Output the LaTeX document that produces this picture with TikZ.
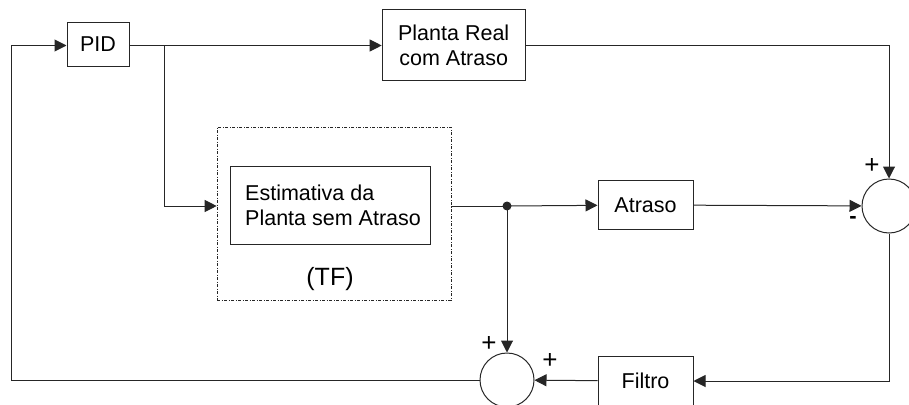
\documentclass[tikz,border=0pt]{standalone}
\usepackage{fontspec}
\setmainfont{Liberation Sans}
\usepackage{tikz}
\usetikzlibrary{calc,arrows.meta,positioning}

\begin{document}
\begin{tikzpicture}[x=1pt, y=-1pt,
  every node/.style={font=\fontsize{21.5}{25}\selectfont},
  blk/.style={draw=black!85, line width=1pt, minimum width=#1, inner sep=0pt},
  sumnode/.style={draw=black!85, line width=1pt, circle, minimum size=54pt, inner sep=0pt},
  arr/.style={draw=black!85, line width=1pt, -{Triangle[length=12pt, width=12pt]}},
  ln/.style={draw=black!85, line width=1pt},
  sgn/.style={font=\fontsize{26}{26}\selectfont, inner sep=0pt}]
\useasboundingbox (0,0) rectangle (909,404);
\node[blk=62pt, minimum height=43pt] (pid) at (98,44.5) {PID};
\node[blk=143pt, minimum height=71pt, align=center] (real) at (453.7,45) {Planta Real\\com Atraso};
\node[draw=black!85, line width=0.6pt, dash pattern=on 3pt off 1.5pt on 1pt off 1.5pt,
  minimum width=234pt, minimum height=173pt] (tf) at (334,213.5) {};
\node[blk=200pt, minimum height=78pt] (est) at (330,205) {};
\node[anchor=west, align=left, inner sep=0pt] (estlbl) at (245,205) {Estimativa da\\Planta sem Atraso};
\node[font=\fontsize{25}{25}\selectfont] (tflbl) at (330,279) {(TF)};
\node[blk=95pt, minimum height=49pt] (atraso) at (645.5,205) {Atraso};
\node[sumnode] (sum1) at (889,206) {};
\node[blk=95pt, minimum height=50pt] (filtro) at (645.5,381) {Filtro};
\node[sumnode] (sum2) at (507,380) {};
\coordinate (jn) at (507,206);
\coordinate (br) at (164.3,45.5);
\coordinate (fb) at (11.7,380);
\draw[arr] (pid.east |- br) -- (real.west |- br);
\draw[arr] (real.east |- br) -| (sum1);
\draw[arr] (br) |- (tf.west |- jn);
\draw[ln] (tf.east |- jn) -- (jn);
\fill[black!85] (jn) circle (4.5pt);
\draw[arr] (jn) -- (atraso);
\draw[arr] (atraso) -- (sum1);
\draw[arr] (sum1) |- (filtro);
\draw[arr] (filtro) -- (sum2);
\draw[arr] (jn) -- (sum2);
\draw[arr] (sum2) -| (fb) |- (pid.west |- br);
\node[sgn] (p1) at (872,166) {+};
\node[sgn, font=\fontsize{22}{22}\selectfont\bfseries] (m1) at (853,220) {-};
\node[sgn] (p2) at (489,344) {+};
\node[sgn] (p3) at (550,361) {+};
\end{tikzpicture}
\end{document}
